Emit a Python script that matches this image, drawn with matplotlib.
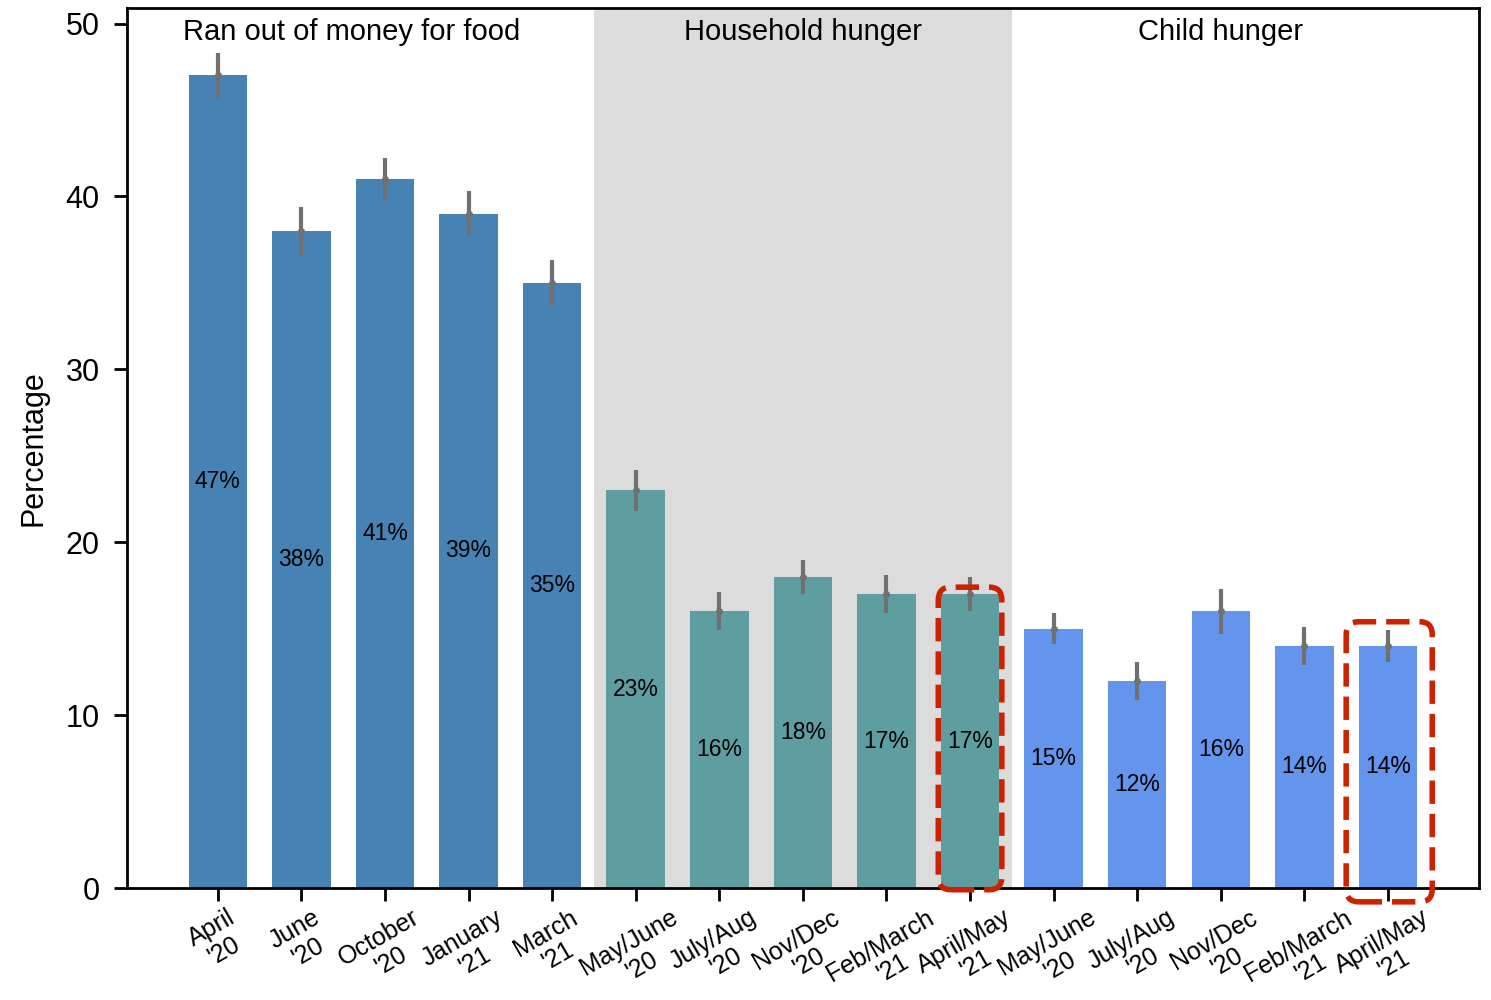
import numpy as np
import matplotlib.pyplot as plt
from matplotlib.patches import FancyBboxPatch

plt.rcParams['font.family'] = ['Liberation Sans', 'DejaVu Sans']

# datos
etiquetas = ["April\n'20", "June\n'20", "October\n'20", "January\n'21", "March\n'21",
             "May/June\n'20", "July/Aug\n'20", "Nov/Dec\n'20", "Feb/March\n'21", "April/May\n'21",
             "May/June\n'20", "July/Aug\n'20", "Nov/Dec\n'20", "Feb/March\n'21", "April/May\n'21"]
valores = [47, 38, 41, 39, 35, 23, 16, 18, 17, 17, 15, 12, 16, 14, 14]
errores = [1.3, 1.4, 1.2, 1.3, 1.3, 1.2, 1.1, 1.0, 1.1, 1.0, 0.9, 1.1, 1.3, 1.1, 0.9]
grupos = ["Ran out of money for food", "Household hunger", "Child hunger"]
colores_grupo = ["#4682B4", "#5F9EA0", "#6495ED"]
tam_grupo = [5, 5, 5]

colores = [c for c, n in zip(colores_grupo, tam_grupo) for _ in range(n)]
x = np.arange(len(valores))

fig, ax = plt.subplots(figsize=(14.91, 10), dpi=100)
fig.subplots_adjust(left=0.085, right=0.992, top=0.992, bottom=0.112)

# sombreado del grupo central
ax.axvspan(4.5, 9.5, color="#dcdcdc", zorder=0, lw=0)

ax.bar(x, valores, width=0.7, color=colores, zorder=2)
ax.errorbar(x, valores, yerr=errores, fmt='o', color='#707070', ms=4,
            elinewidth=3, capsize=0, zorder=3)

for xi, v in zip(x, valores):
    ax.text(xi, v / 2, f"{v}%", ha='center', va='center', fontsize=16.5, zorder=4)

# titulos de grupo
pos_titulo = [1.6, 7, 12]
for px, t in zip(pos_titulo, grupos):
    ax.text(px, 49.5, t, ha='center', va='center', fontsize=21)

# recuadros rojos
for (x0, y0, w, h) in [(8.62, -0.1, 0.76, 17.5), (13.5, -0.8, 1.03, 16.2)]:
    caja = FancyBboxPatch((x0, y0), w, h, boxstyle="round,pad=0,rounding_size=0.15",
                          mutation_aspect=5, fill=False, edgecolor='#cc2200',
                          lw=4, ls=(0, (4.2, 1.8)), zorder=5, clip_on=False)
    ax.add_patch(caja)

ax.set_xlim(-1.09, 15.09)
ax.set_ylim(0, 50.9)
ax.set_xticks(x)
ax.set_xticklabels(etiquetas, rotation=30, ha='center', fontsize=18, linespacing=1.1)
ax.set_yticks([0, 10, 20, 30, 40, 50])
ax.tick_params(axis='y', labelsize=22, length=9.5, width=2, pad=10)
ax.tick_params(axis='x', length=9.5, width=2, pad=3)
ax.set_ylabel("Percentage", fontsize=22, labelpad=12)
for s in ax.spines.values():
    s.set_linewidth(2)

fig.savefig("out.png", dpi=100)
